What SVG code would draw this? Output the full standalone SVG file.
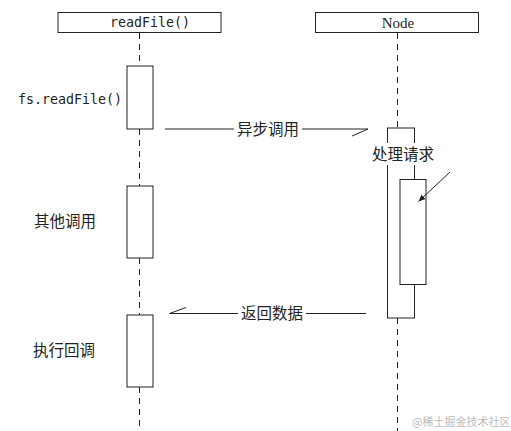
<svg xmlns="http://www.w3.org/2000/svg" width="511" height="431" viewBox="0 0 511 431">
<style>
.box{fill:#fff;stroke:#222;stroke-width:1}
.life{stroke:#222;stroke-width:1;stroke-dasharray:6 5;fill:none}
.ln{stroke:#222;stroke-width:1;fill:none}
.mono{font-family:"DejaVu Sans Mono","Liberation Mono",monospace;font-size:13.3px;fill:#222}
.cjk{font-family:"Noto Sans CJK SC","Noto Sans",sans-serif;font-size:15.5px;fill:#222}
.serif{font-family:"Liberation Serif","DejaVu Serif",serif;font-size:15px;fill:#222}
.wm{font-family:"Noto Sans CJK SC",sans-serif;font-size:11px;fill:#bbb}
</style>
<defs>
<marker id="ah" markerWidth="8" markerHeight="8" refX="7" refY="4" orient="auto" markerUnits="userSpaceOnUse">
<path d="M0,1 L7,4 L0,7 Z" fill="#222"/>
</marker>
</defs>
<rect width="511" height="431" fill="#fff"/>
<g id="lifelines">
<line class="life" x1="139.5" y1="33" x2="139.5" y2="66"/>
<line class="life" x1="139.5" y1="129" x2="139.5" y2="186"/>
<line class="life" x1="139.5" y1="258" x2="139.5" y2="315"/>
<line class="life" x1="139.5" y1="387" x2="139.5" y2="431"/>
<line class="life" x1="397.5" y1="33" x2="397.5" y2="128"/>
<line class="life" x1="397.5" y1="318" x2="397.5" y2="431"/>
</g>
<g id="header-readFile">
<rect class="box" x="58" y="12.5" width="163" height="20"/>
<text class="mono" x="150" y="27" text-anchor="middle">readFile()</text>
</g>
<g id="header-node">
<rect class="box" x="315.5" y="12.5" width="163" height="20"/>
<text class="serif" x="398" y="27.5" text-anchor="middle">Node</text>
</g>
<g id="act-readfile">
<rect class="box" x="127" y="66" width="26" height="63"/>
<text class="mono" x="18" y="103.5">fs.readFile()</text>
</g>
<g id="act-other">
<rect class="box" x="127" y="186" width="26" height="72"/>
<text class="cjk" x="34" y="227">其他调用</text>
</g>
<g id="act-callback">
<rect class="box" x="127" y="315" width="26" height="72"/>
<text class="cjk" x="33" y="356">执行回调</text>
</g>
<g id="act-node">
<rect class="box" x="387.5" y="128" width="27" height="190"/>
<rect x="370" y="143" width="66" height="22" fill="#fff"/>
<text class="cjk" x="403" y="159.5" text-anchor="middle">处理请求</text>
</g>
<g id="act-node-inner">
<rect class="box" x="400" y="179.5" width="26" height="105"/>
</g>
<g id="connectors">
<line class="ln" x1="165" y1="129" x2="368" y2="129"/>
<polyline class="ln" points="368,129 352,136"/>
<rect x="234" y="120" width="68" height="20" fill="#fff"/>
<text class="cjk" x="268" y="134.5" text-anchor="middle">异步调用</text>
<line class="ln" x1="366" y1="313.5" x2="169.5" y2="313.5"/>
<polyline class="ln" points="169.5,313.5 186,307.5"/>
<rect x="238" y="304" width="68" height="20" fill="#fff"/>
<text class="cjk" x="272" y="318.5" text-anchor="middle">返回数据</text>
<line class="ln" x1="450" y1="172" x2="418.5" y2="201.5" marker-end="url(#ah)"/>
</g>
<text class="wm" x="412" y="425.5">@稀土掘金技术社区</text>
</svg>
